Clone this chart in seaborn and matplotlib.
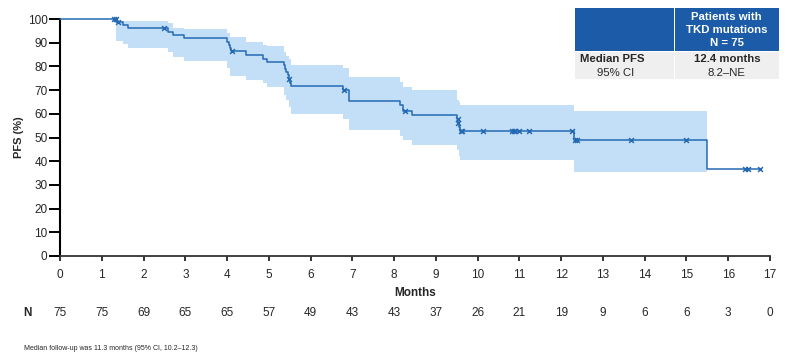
import numpy as np
import pandas as pd
import matplotlib
matplotlib.use('Agg')
import matplotlib.pyplot as plt
import matplotlib.transforms as mtransforms
from matplotlib.patches import Rectangle
import seaborn as sns

# 数据：KM曲线（step-post）
km_time = [0, 1.35, 1.50, 1.63, 2.59, 2.71, 2.97, 4.01, 4.04, 4.07, 4.10, 4.45, 4.87, 4.95,
           5.36, 5.39, 5.42, 5.45, 5.48, 5.51, 5.54, 6.78, 6.93, 8.14, 8.22, 8.42,
           9.51, 9.53, 9.55, 9.58, 12.31, 15.49, 16.76]
km_surv = [100, 98.7, 97.3, 96.0, 94.7, 93.3, 91.9, 90.5, 89.1, 87.7, 86.3, 84.8, 83.3, 81.8,
           80.4, 79.0, 77.6, 76.2, 74.8, 73.2, 71.6, 70.2, 65.6, 63.8, 61.3, 59.4,
           57.8, 56.2, 54.5, 52.8, 48.9, 36.6, 36.6]

# 95% CI 带
ci_time = [0, 1.35, 1.50, 1.63, 2.59, 2.71, 2.97, 4.01, 4.07, 4.45, 4.87, 4.95, 5.36, 5.42,
           5.48, 5.54, 6.78, 6.93, 8.14, 8.22, 8.42, 9.51, 9.55, 9.58, 12.31, 15.49]
ci_upper = [100, 99.3, 99.3, 99.3, 98.2, 96.3, 95.8, 94.0, 92.2, 90.4, 89.2, 88.5, 86.0, 84.5,
            83.2, 80.4, 79.2, 75.6, 73.5, 71.5, 70.0, 65.8, 65.0, 63.7, 61.3, 61.3]
ci_lower = [100, 90.7, 89.3, 87.6, 85.9, 84.1, 82.3, 79.2, 75.8, 74.2, 72.8, 71.2, 68.0, 65.8,
            63.0, 59.8, 58.0, 53.1, 50.6, 48.9, 46.8, 44.7, 42.0, 40.4, 35.4, 35.4]

# 删失时间
censor_time = [1.30, 1.33, 1.38, 2.50, 4.12, 5.485, 6.80, 8.26, 9.52, 9.54, 9.59, 9.62,
               10.14, 10.82, 10.86, 10.90, 11.00, 11.22, 12.26, 12.33, 12.38, 13.68, 15.00,
               16.40, 16.47, 16.76]

# 风险人数
risk_months = list(range(0, 18))
risk_n = [75, 75, 69, 65, 65, 57, 49, 43, 43, 37, 26, 21, 19, 9, 6, 6, 3, 0]

line_color = '#2469B3'
band_color = '#C3DFF8'
fs = 8.5
fs_tab = 8.2

sns.set_style('white')
plt.rcParams['font.family'] = ['Liberation Sans', 'DejaVu Sans']

fig = plt.figure(figsize=(7.86, 3.53), dpi=100)
ax = fig.add_axes([60 / 786, 1 - 256 / 353, 710 / 786, 237 / 353])

# 置信区间
ax.fill_between(ci_time, ci_lower, ci_upper, step='post', color=band_color,
                linewidth=0, zorder=1)

# KM曲线
km = pd.DataFrame({'Months': km_time, 'PFS': km_surv})
sns.lineplot(data=km, x='Months', y='PFS', drawstyle='steps-post', estimator=None,
             sort=False, color=line_color, linewidth=1.1, ax=ax, zorder=3, clip_on=False)

# 删失点（从曲线上取值）
idx = np.searchsorted(km_time, censor_time, side='right') - 1
cens = pd.DataFrame({'Months': censor_time, 'PFS': np.array(km_surv)[idx]})
sns.scatterplot(data=cens, x='Months', y='PFS', marker='x', s=12, color=line_color,
                linewidth=1.1, ax=ax, zorder=4, clip_on=False)

ax.set_xlim(0, 17)
ax.set_ylim(0, 100)
ax.set_xticks(range(0, 18))
ax.set_yticks(range(0, 101, 10))
ax.set_xlabel('')
ax.set_ylabel('')
for s in ['top', 'right']:
    ax.spines[s].set_visible(False)
ax.spines['left'].set_linewidth(1.5)
ax.spines['left'].set_color('black')
ax.spines['bottom'].set_linewidth(1.3)
ax.spines['bottom'].set_color('#333333')
ax.tick_params(axis='y', direction='out', length=8, width=1.4, pad=1, labelsize=fs,
               left=True, color='black')
ax.tick_params(axis='x', direction='out', length=3.5, width=1.4, pad=5.5, labelsize=fs,
               bottom=True, color='#333333')

fig.text(19 / 786, 1 - 137.5 / 353, 'PFS (%)', rotation=90, ha='center', va='center',
         fontsize=8, fontweight='bold')
fig.text(415 / 786, 1 - 293 / 353, 'Months', ha='center', va='center',
         fontsize=fs, fontweight='bold')

# 风险人数行
trans = mtransforms.blended_transform_factory(ax.transData, fig.transFigure)
fig.text(27 / 786, 1 - 313 / 353, 'N', ha='center', va='center', fontsize=fs,
         fontweight='bold')
for m, n in zip(risk_months, risk_n):
    ax.text(m, 1 - 313 / 353, str(n), transform=trans, ha='center', va='center',
            fontsize=fs)

fig.text(24 / 786, 1 - 348 / 353, 'Median follow-up was 11.3 months (95% CI, 10.2–12.3)',
         ha='left', va='center', fontsize=5)

# 表格
W, H = 786, 353
def frect(x0, y0, x1, y1, color):
    fig.patches.append(Rectangle((x0 / W, 1 - y1 / H), (x1 - x0) / W, (y1 - y0) / H,
                                 transform=fig.transFigure, facecolor=color,
                                 edgecolor='none', zorder=5))

hdr = '#1B5BA7'
body = '#EFEFEF'
frect(575, 8.3, 673.5, 50.5, hdr)
frect(674.5, 8.3, 779, 50.5, hdr)
frect(575, 51.5, 673.5, 79.3, body)
frect(674.5, 51.5, 779, 79.3, body)

for yy, txt in zip([16.7, 30, 43.3], ['Patients with', 'TKD mutations', 'N = 75']):
    fig.text(726.5 / W, 1 - yy / H, txt, ha='center', va='center', color='white',
             fontsize=fs_tab, fontweight='bold', zorder=6)
fig.text(612 / W, 1 - 59.3 / H, 'Median PFS', ha='center', va='center', fontsize=fs_tab,
         fontweight='bold', zorder=6)
fig.text(616 / W, 1 - 72.7 / H, '95% CI', ha='center', va='center', fontsize=fs_tab,
         zorder=6)
fig.text(727 / W, 1 - 59.3 / H, '12.4 months', ha='center', va='center', fontsize=fs_tab,
         fontweight='bold', zorder=6)
fig.text(726 / W, 1 - 72.7 / H, '8.2–NE', ha='center', va='center', fontsize=fs_tab,
         zorder=6)

fig.savefig('out.png', dpi=100)
